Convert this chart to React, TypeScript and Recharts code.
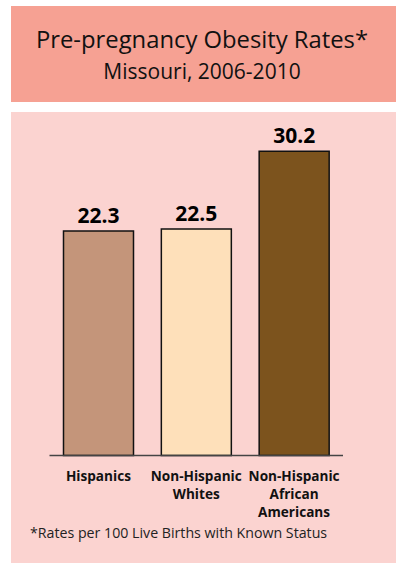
import React from "react";
import { BarChart, Bar, XAxis, YAxis, Cell, LabelList } from "recharts";

const categories = ["Hispanics", "Non-Hispanic Whites", "Non-Hispanic African Americans"];
const rates = [22.3, 22.5, 30.2];
const barColors = ["#C4957A", "#FEE0BA", "#7C531D"];
const titleText = "Pre-pregnancy Obesity Rates*";
const subtitleText = "Missouri, 2006-2010";
const footnoteText = "*Rates per 100 Live Births with Known Status";

const data = categories.map((c, i) => ({ name: c, value: rates[i] }));

const FONT = "'Open Sans', 'Noto Sans', sans-serif";

const CategoryTick = (props: any) => {
  const { x, y, payload } = props;
  const lines = String(payload.value).split(" ");
  return (
    <g>
      {lines.map((ln: string, i: number) => (
        <text
          key={i}
          x={x}
          y={y + 25 + i * 18}
          textAnchor="middle"
          fontFamily={FONT}
          fontWeight={700}
          fontSize={13.6}
          fill="#111"
        >
          {ln}
        </text>
      ))}
    </g>
  );
};

export default function App() {
  return (
    <div style={{ position: "absolute", left: 0, top: 0, width: 396, height: 563, background: "#fff", fontFamily: FONT, overflow: "hidden" }}>
      <div style={{ position: "absolute", left: 11, top: 6, width: 385, height: 96, background: "#F6A193" }} />
      <div style={{ position: "absolute", left: 11, top: 112, width: 385, height: 451, background: "#FBD3D0" }} />
      <div style={{ position: "absolute", left: 0, top: 23, width: 404, textAlign: "center", fontSize: 23.8, color: "#111", lineHeight: "32px", whiteSpace: "nowrap" }}>
        {titleText}
      </div>
      <div style={{ position: "absolute", left: 0, top: 56, width: 404, textAlign: "center", fontSize: 21, color: "#111", lineHeight: "30px", whiteSpace: "nowrap" }}>
        {subtitleText}
      </div>
      <div style={{ position: "absolute", left: 30, top: 523, fontSize: 14.2, color: "#222", lineHeight: "20px", whiteSpace: "nowrap" }}>
        {footnoteText}
      </div>
      <div style={{ position: "absolute", left: 0, top: 0 }}>
        <BarChart
          width={396}
          height={563}
          data={data}
          margin={{ top: 103, right: 53, left: 49.5, bottom: 0 }}
          barCategoryGap={0}
        >
          <YAxis hide domain={[0, 35]} />
          <XAxis
            dataKey="name"
            height={107.5}
            tickLine={false}
            tickSize={0}
            tickMargin={0}
            interval={0}
            axisLine={{ stroke: "#444", strokeWidth: 1.5 }}
            tick={<CategoryTick />}
          />
          <Bar dataKey="value" barSize={70} stroke="#111" strokeWidth={1.5} isAnimationActive={false}>
            {data.map((d, i) => (
              <Cell key={d.name} fill={barColors[i]} />
            ))}
            <LabelList dataKey="value" position="top" offset={8} fill="#000" fontSize={21} fontWeight={700} fontFamily={FONT} />
          </Bar>
        </BarChart>
      </div>
    </div>
  );
}
